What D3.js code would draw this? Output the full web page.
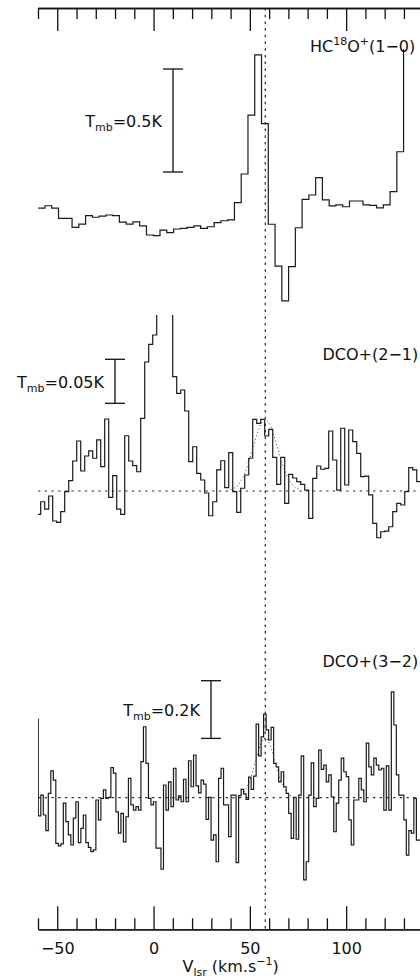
<!DOCTYPE html>
<html>
<head>
<meta charset="utf-8">
<script src="https://cdn.jsdelivr.net/npm/d3@7"></script>
<style>
  html, body { margin: 0; padding: 0; background: #ffffff; }
  svg { display: block; }
  text { font-family: "DejaVu Sans", sans-serif; fill: #111; }
</style>
</head>
<body>
<svg id="chart" width="420" height="979"></svg>
<script>
// ---------------------------------------------------------------------------
// Spectra: channel centre velocity (km/s) and main-beam temperature (K)
// ---------------------------------------------------------------------------

// HC18O+ (1-0)
const hc18oVel = [-58.12, -54.61, -51.10, -47.58, -44.07, -40.56, -37.04, -33.53, -30.02, -26.51,
  -22.99, -19.48, -15.97, -12.45, -8.94, -5.43, -1.92, 1.60, 5.11, 8.62,
  12.14, 15.65, 19.16, 22.68, 26.19, 29.70, 33.22, 36.73, 40.24, 43.75,
  47.27, 50.78, 54.29, 57.81, 61.32, 64.83, 68.35, 71.86, 75.37, 78.89,
  82.40, 85.91, 89.42, 92.94, 96.45, 99.96, 103.48, 106.99, 110.50, 114.02,
  117.53, 121.04, 124.56, 128.07, 131.58, 135.10, 138.61];
const hc18oTmb = [0.033, 0.045, 0.033, -0.016, -0.016, -0.060, -0.044, -0.003, -0.011, -0.005,
  0.000, -0.003, -0.035, -0.044, -0.033, -0.053, -0.097, -0.100, -0.073, -0.086,
  -0.068, -0.065, -0.060, -0.053, -0.065, -0.057, -0.037, -0.028, -0.024, 0.060,
  0.199, 0.485, 0.777, 0.444, -0.045, -0.248, -0.417, -0.251, -0.062, 0.076,
  0.097, 0.181, 0.073, 0.044, 0.049, 0.040, 0.068, 0.068, 0.049, 0.047,
  0.035, 0.049, 0.113, 0.307, 0.900, 0.950, 0.950];

// DCO+ (2-1)
const dco21Vel = [-59.64, -57.56, -55.48, -53.41, -51.33, -49.25, -47.18, -45.10, -43.02, -40.94,
  -38.87, -36.79, -34.71, -32.64, -30.56, -28.48, -26.41, -24.33, -22.25, -20.17,
  -18.10, -16.02, -13.94, -11.87, -9.79, -7.71, -5.64, -3.56, -1.48, 0.60,
  2.67, 4.75, 6.83, 8.90, 10.98, 13.06, 15.14, 17.21, 19.29, 21.37,
  23.44, 25.52, 27.60, 29.67, 31.75, 33.83, 35.91, 37.98, 40.06, 42.14,
  44.21, 46.29, 48.37, 50.44, 52.52, 54.60, 56.68, 58.75, 60.83, 62.91,
  64.98, 67.06, 69.14, 71.21, 73.29, 75.37, 77.45, 79.52, 81.60, 83.68,
  85.75, 87.83, 89.91, 91.98, 94.06, 96.14, 98.22, 100.29, 102.37, 104.45,
  106.52, 108.60, 110.68, 112.75, 114.83, 116.91, 118.98, 121.06, 123.14, 125.22,
  127.29, 129.37, 131.45, 133.52, 135.60, 137.68, 139.75];
const dco21Tmb = [-0.0265, -0.0122, -0.0205, -0.0057, -0.0341, -0.0356, -0.0235, -0.0008, 0.0117, 0.0341,
  0.0568, 0.0227, 0.0398, 0.0455, 0.0372, 0.0580, 0.0276, 0.0818, -0.0072, 0.0174,
  -0.0205, -0.0265, 0.0628, 0.0341, 0.0288, 0.0219, 0.0826, 0.1466, 0.1667, 0.1773,
  0.2150, 0.2350, 0.2400, 0.2200, 0.1299, 0.1110, 0.1148, 0.0909, 0.0333, 0.0503,
  0.0201, 0.0125, -0.0023, -0.0281, -0.0122, 0.0239, 0.0344, 0.0038, 0.0435, -0.0008,
  -0.0242, 0.0031, 0.0182, 0.0372, 0.0815, 0.0769, 0.0815, 0.0625, 0.0701, 0.0383,
  0.0076, 0.0383, -0.0140, 0.0190, 0.0148, 0.0106, 0.0076, 0.0011, -0.0310, 0.0144,
  0.0284, 0.0247, 0.0258, 0.0682, 0.0352, 0.0011, 0.0713, 0.0068, 0.0693, 0.0560,
  0.0428, 0.0163, 0.0170, -0.0045, -0.0367, -0.0531, -0.0463, -0.0455, -0.0406, -0.0235,
  -0.0140, -0.0159, -0.0008, 0.0265, 0.0239, 0.0106, 0.0100];

// Gaussian fit of the DCO+ (2-1) line
const dco21FitVel = [40, 44, 48, 52, 55, 58, 61, 64, 68, 72, 76];
const dco21FitTmb = [0.0015, 0.0073, 0.0237, 0.0520, 0.0725, 0.0810, 0.0725, 0.0520, 0.0237, 0.0073, 0.0015];

// DCO+ (3-2)
const dco32Vel = [-60.5, -59.2, -57.9, -56.6, -55.3, -54.0, -52.7, -51.4, -50.1, -48.8,
  -47.5, -46.2, -44.9, -43.6, -42.3, -41.0, -39.7, -38.4, -37.1, -35.8,
  -34.5, -33.2, -31.9, -30.6, -29.3, -28.0, -26.7, -25.4, -24.1, -22.8,
  -21.5, -20.2, -18.9, -17.6, -16.3, -15.0, -13.7, -12.4, -11.1, -9.8,
  -8.5, -7.2, -5.9, -4.6, -3.3, -2.0, -0.7, 0.6, 1.9, 3.2,
  4.5, 5.8, 7.1, 8.4, 9.7, 11.0, 12.3, 13.6, 14.9, 16.2,
  17.5, 18.8, 20.1, 21.4, 22.7, 24.0, 25.3, 26.6, 27.9, 29.2,
  30.5, 31.8, 33.1, 34.4, 35.7, 37.0, 38.3, 39.6, 40.9, 42.2,
  43.5, 44.8, 46.1, 47.4, 48.7, 50.0, 51.3, 52.6, 53.9, 55.2,
  56.5, 57.8, 59.1, 60.4, 61.7, 63.0, 64.3, 65.6, 66.9, 68.2,
  69.5, 70.8, 72.1, 73.4, 74.7, 76.0, 77.3, 78.6, 79.9, 81.2,
  82.5, 83.8, 85.1, 86.4, 87.7, 89.0, 90.3, 91.6, 92.9, 94.2,
  95.5, 96.8, 98.1, 99.4, 100.7, 102.0, 103.3, 104.6, 105.9, 107.2,
  108.5, 109.8, 111.1, 112.4, 113.7, 115.0, 116.3, 117.6, 118.9, 120.2,
  121.5, 122.8, 124.1, 125.4, 126.7, 128.0, 129.3, 130.6, 131.9, 133.2,
  134.5, 135.8, 137.1, 138.4];
const dco32Tmb = [0.272, -0.063, 0.009, -0.060, -0.114, 0.015, 0.093, 0.061, -0.158, -0.167,
  -0.160, -0.019, -0.083, -0.129, -0.164, -0.071, -0.014, -0.156, -0.106, -0.060,
  -0.156, -0.172, -0.187, -0.181, -0.008, -0.077, -0.002, 0.027, -0.002, 0.001,
  0.104, 0.085, -0.049, -0.123, -0.054, -0.153, -0.066, 0.067, -0.025, -0.043,
  -0.031, -0.043, 0.125, 0.246, 0.119, -0.002, -0.025, -0.014, -0.175, -0.175,
  -0.248, 0.044, -0.043, 0.055, -0.031, 0.102, -0.008, 0.006, -0.014, 0.064,
  -0.014, 0.128, 0.038, 0.148, 0.041, 0.017, 0.061, 0.047, -0.075, 0.001,
  -0.147, -0.129, -0.222, 0.067, 0.102, -0.025, -0.025, -0.135, 0.009, 0.009,
  -0.225, 0.007, 0.029, 0.013, -0.006, 0.071, 0.029, 0.075, 0.255, 0.145,
  0.211, 0.290, 0.235, 0.200, 0.244, 0.119, 0.107, 0.055, 0.090, 0.038,
  0.015, -0.054, -0.141, 0.001, -0.144, 0.009, 0.145, -0.285, -0.222, 0.009,
  0.121, -0.031, -0.002, 0.165, 0.098, 0.113, 0.055, 0.079, 0.003, -0.118,
  -0.019, 0.061, 0.137, 0.090, 0.073, -0.077, -0.164, -0.008, -0.008, 0.067,
  0.027, -0.014, 0.189, 0.107, 0.079, 0.137, 0.113, 0.096, 0.102, -0.043,
  0.110, -0.043, 0.367, 0.252, 0.079, 0.009, 0.009, -0.077, -0.199, -0.114,
  -0.123, -0.002, -0.147, -0.147];

// Gaussian fit of the DCO+ (3-2) line
const dco32FitVel = [44, 47, 50, 53, 55.5, 58, 60.5, 63, 66, 69, 72];
const dco32FitTmb = [0.005, 0.020, 0.060, 0.128, 0.184, 0.207, 0.184, 0.128, 0.060, 0.020, 0.005];

// Velocity axis
const velocityDomain = [-60, 140];
const velocityTicks = [-60, -50, -40, -30, -20, -10, 0, 10, 20, 30, 40, 50, 60, 70, 80, 90, 100, 110, 120, 130, 140];
const velocityMajorTicks = [-50, 0, 50, 100];
const systemicVelocity = 58;

// Intensity scale bars (K)
const scaleBarValues = [0.5, 0.05, 0.2];
const scaleBarLabels = ["0.5K", "0.05K", "0.2K"];

// ---------------------------------------------------------------------------
// Layout
// ---------------------------------------------------------------------------
const svg = d3.select("#chart");
const plotLeft = 38, plotRight = 423.2;
const axisTopY = 8, axisBottomY = 929.3;
const majorLen = 23, minorLen = 11;
const ink = "#111";

const x = d3.scaleLinear().domain(velocityDomain).range([plotLeft, plotRight]);

const panels = [
  { id: "hc18o", vel: hc18oVel, tmb: hc18oTmb,
    y: d3.scaleLinear().domain([0, 0.5]).range([215, 112]),
    clip: [49, 315], baseline: false,
    bar: { x: 173, top: 69 }, labelX: 310, labelY: 51.7 },
  { id: "dco21", vel: dco21Vel, tmb: dco21Tmb, fitVel: dco21FitVel, fitTmb: dco21FitTmb,
    y: d3.scaleLinear().domain([0, 0.05]).range([491, 447]),
    clip: [315, 581], baseline: true,
    bar: { x: 115, top: 359.3 }, labelX: 322.5, labelY: 360 },
  { id: "dco32", vel: dco32Vel, tmb: dco32Tmb, fitVel: dco32FitVel, fitTmb: dco32FitTmb,
    y: d3.scaleLinear().domain([0, 0.2]).range([797.7, 740]),
    clip: [581, 929], baseline: true,
    bar: { x: 211, top: 680.7 }, labelX: 322.5, labelY: 666.7 }
];

// histogram outline: each channel spans half-way to its neighbours
function stepPoints(vel, tmb) {
  const pts = [];
  const n = vel.length;
  for (let i = 0; i < n; i++) {
    const left = i > 0 ? (vel[i - 1] + vel[i]) / 2 : vel[0] - (vel[1] - vel[0]) / 2;
    const right = i < n - 1 ? (vel[i] + vel[i + 1]) / 2 : vel[i] + (vel[i] - vel[i - 1]) / 2;
    pts.push([left, tmb[i]], [right, tmb[i]]);
  }
  return pts;
}

const defs = svg.append("defs");

panels.forEach((p, idx) => {
  defs.append("clipPath").attr("id", "clip-" + p.id)
    .append("rect")
    .attr("x", plotLeft).attr("y", p.clip[0])
    .attr("width", plotRight - plotLeft).attr("height", p.clip[1] - p.clip[0]);

  const g = svg.append("g").attr("class", "panel-" + p.id);

  if (p.baseline) {
    g.append("line")
      .attr("x1", plotLeft).attr("x2", plotRight)
      .attr("y1", p.y(0)).attr("y2", p.y(0))
      .attr("stroke", "#333").attr("stroke-width", 1.2)
      .attr("stroke-dasharray", "2.4,4.3");
  }

  const line = d3.line().x(d => x(d[0])).y(d => p.y(d[1]));

  g.append("path")
    .attr("clip-path", "url(#clip-" + p.id + ")")
    .attr("d", line(stepPoints(p.vel, p.tmb)))
    .attr("fill", "none").attr("stroke", "#1a1a1a")
    .attr("stroke-width", 1.2).attr("stroke-linejoin", "miter");

  if (p.fitVel) {
    const fitLine = d3.line().curve(d3.curveMonotoneX)
      .x((d, i) => x(p.fitVel[i])).y(d => p.y(d));
    g.append("path")
      .attr("d", fitLine(p.fitTmb))
      .attr("fill", "none").attr("stroke", "#333")
      .attr("stroke-width", 1).attr("stroke-dasharray", "1,2.6");
  }

  // intensity scale bar
  const barLen = p.y(0) - p.y(scaleBarValues[idx]);
  const bx = p.bar.x, by0 = p.bar.top, by1 = p.bar.top + barLen;
  const bar = g.append("g").attr("stroke", ink).attr("stroke-width", 1.3);
  bar.append("line").attr("x1", bx).attr("x2", bx).attr("y1", by0).attr("y2", by1);
  bar.append("line").attr("x1", bx - 10).attr("x2", bx + 10).attr("y1", by0).attr("y2", by0);
  bar.append("line").attr("x1", bx - 10).attr("x2", bx + 10).attr("y1", by1).attr("y2", by1);

  const t = g.append("text")
    .attr("x", bx - 11).attr("y", (by0 + by1) / 2 + 6.5)
    .attr("text-anchor", "end").attr("font-size", 16);
  t.append("tspan").text("T");
  t.append("tspan").attr("dy", 4).attr("font-size", 11).text("mb");
  t.append("tspan").attr("dy", -4).text("=" + scaleBarLabels[idx]);
});

// species labels
const lab1 = svg.append("text").attr("x", panels[0].labelX).attr("y", panels[0].labelY).attr("font-size", 16);
lab1.append("tspan").text("HC");
lab1.append("tspan").attr("dy", -7).attr("font-size", 11).text("18");
lab1.append("tspan").attr("dy", 7).text("O");
lab1.append("tspan").attr("dy", -7).attr("font-size", 11).text("+");
lab1.append("tspan").attr("dy", 7).text("(1\u22120)");

svg.append("text").attr("x", panels[1].labelX).attr("y", panels[1].labelY)
  .attr("font-size", 16).text("DCO+(2\u22121)");
svg.append("text").attr("x", panels[2].labelX).attr("y", panels[2].labelY)
  .attr("font-size", 16).text("DCO+(3\u22122)");

// systemic velocity marker
svg.append("line")
  .attr("x1", x(systemicVelocity)).attr("x2", x(systemicVelocity))
  .attr("y1", axisTopY).attr("y2", axisBottomY)
  .attr("stroke", "#222").attr("stroke-width", 1.2)
  .attr("stroke-dasharray", "2.5,4.2");

// velocity axes (top and bottom, ticks pointing inward)
const minorTicks = velocityTicks.filter(v => !velocityMajorTicks.includes(v));

function styleAxis(sel) {
  sel.selectAll("path, line").attr("stroke", ink).attr("stroke-width", 1.3);
}

[[d3.axisBottom, axisTopY], [d3.axisTop, axisBottomY]].forEach(([axisFn, yPos]) => {
  svg.append("g").attr("transform", `translate(0,${yPos})`)
    .call(axisFn(x).tickValues(minorTicks).tickSize(minorLen).tickSizeOuter(0).tickFormat(""))
    .call(styleAxis);
  svg.append("g").attr("transform", `translate(0,${yPos})`)
    .call(axisFn(x).tickValues(velocityMajorTicks).tickSize(majorLen).tickSizeOuter(0).tickFormat(""))
    .call(styleAxis);
});

const labelAxis = svg.append("g").attr("transform", `translate(0,${axisBottomY})`)
  .call(d3.axisBottom(x).tickValues(velocityMajorTicks).tickSize(0).tickPadding(13).tickFormat(d3.format("d")));
labelAxis.select(".domain").remove();
labelAxis.attr("font-size", 16).attr("font-family", "\"DejaVu Sans\", sans-serif");
labelAxis.selectAll("text").attr("fill", ink);

// axis title
const title = svg.append("text")
  .attr("x", (plotLeft + plotRight) / 2).attr("y", 972)
  .attr("text-anchor", "middle").attr("font-size", 16);
title.append("tspan").text("V");
title.append("tspan").attr("dy", 4).attr("font-size", 11).text("lsr");
title.append("tspan").attr("dy", -4).text(" (km.s");
title.append("tspan").attr("dy", -7).attr("font-size", 11).text("\u22121");
title.append("tspan").attr("dy", 7).text(")");
</script>
</body>
</html>
